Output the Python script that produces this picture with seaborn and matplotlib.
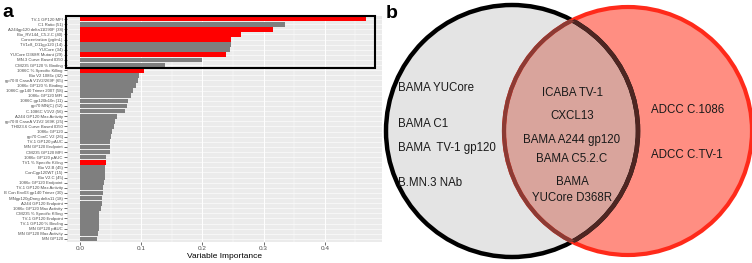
import numpy as np
import pandas as pd
import seaborn as sns
import matplotlib.pyplot as plt
from matplotlib.patches import Circle, Rectangle

# ------------------ DATA ------------------
variables = [
    'TV-1 GP120 MFI', 'C1 Ratio (51)', 'A244gp120 delta11D90F (38)', 'Bio_RV144_C5.2.C (40)',
    'Concentration (pg/mL)', 'TV1c8_D11gp120 (14)', 'YUCore (34)', 'YUCore D368R Mutant (29)',
    'MN.3 Curve Based ID50', 'CM235 GP120 % Binding', '1086C % Specific Killing', 'Bio V2 1086c (42)',
    'gp70 B CaseA V1V2/269F (65)', '1086c GP120 % Binding', '1086C gp140 Trimer 2007 (58)',
    '1086c GP120 MFI', '1086C gp120b10n (11)', 'gp70 MN(C) (52)', 'C.1086C V1V2 (56)',
    'A244 GP120 Max Activity', 'gp70 B CaseA V1V2 169K (25)', 'TH023.6 Curve Based ID50',
    '1086c GP120', 'gp70 ConC V2 (26)', 'TV-1 GP120 pAUC', 'MN GP120 Endpoint', 'CM235 GP120 MFI',
    '1086c GP120 pAUC', 'TV1 % Specific Killing', 'Bio V2.B (45)', 'ConCgp120WT (15)', 'Bio V2.C (45)',
    '1086c GP120 Endpoint', 'TV-1 GP120 Max Activity', 'B Con Env03 gp140 Trimer (30)',
    'MNgp120gDneg delta11 (18)', 'A244 GP120 Endpoint', '1086c GP120 Max Activity',
    'CM235 % Specific Killing', 'TV-1 GP120 Endpoint', 'TV-1 GP120 % Binding', 'MN GP120 pAUC',
    'MN GP120 Max Activity', 'MN GP120',
]
importance = [
    0.468, 0.335, 0.316, 0.263, 0.247, 0.246, 0.245, 0.239, 0.200, 0.138,
    0.104, 0.097, 0.095, 0.092, 0.087, 0.083, 0.079, 0.077, 0.073, 0.060,
    0.057, 0.055, 0.052, 0.050, 0.049, 0.049, 0.048, 0.043, 0.042, 0.041,
    0.040, 0.040, 0.039, 0.038, 0.037, 0.036, 0.035, 0.034, 0.031, 0.031,
    0.030, 0.030, 0.029, 0.028,
]
highlighted = [
    'TV-1 GP120 MFI', 'A244gp120 delta11D90F (38)', 'Bio_RV144_C5.2.C (40)',
    'Concentration (pg/mL)', 'YUCore D368R Mutant (29)', '1086C % Specific Killing',
    'TV1 % Specific Killing',
]
n_boxed = 10

left_only = ['BAMA YUCore', 'BAMA C1', 'BAMA  TV-1 gp120', 'B.MN.3 NAb']
shared = ['ICABA TV-1', 'CXCL13', 'BAMA A244 gp120', 'BAMA C5.2.C', 'BAMA', 'YUCore D368R']
right_only = ['ADCC C.1086', 'ADCC C.TV-1']

df = pd.DataFrame({'Variable': variables, 'Importance': importance})
df['Group'] = np.where(df['Variable'].isin(highlighted), 'shared', 'other')

plt.rcParams['font.family'] = ['Liberation Sans', 'DejaVu Sans']

fig = plt.figure(figsize=(7.52, 2.63), dpi=100)

# ------------------ PANEL A ------------------
ax = fig.add_axes([67 / 752, 1 - 242 / 263, (382 - 67) / 752, (242 - 16) / 263])
sns.barplot(data=df, x='Importance', y='Variable', hue='Group',
            palette={'shared': '#FF0000', 'other': '#7F7F7F'},
            dodge=False, width=0.93, saturation=1, legend=False, ax=ax,
            linewidth=0, edgecolor='none')

ax.set_facecolor('#EBEBEB')
for s in ax.spines.values():
    s.set_visible(False)
ax.set_axisbelow(True)
ax.set_xlim(-0.0215, 0.4935)
ax.set_ylim(len(variables) - 0.4, -0.6)
ax.set_xticks([0, 0.1, 0.2, 0.3, 0.4])
ax.set_xticklabels(['0.0', '0.1', '0.2', '0.3', '0.4'])
ax.set_xticks(np.arange(0.05, 0.5, 0.1), minor=True)
ax.grid(which='major', axis='x', color='white', lw=0.7)
ax.grid(which='major', axis='y', color='white', lw=0.4)
ax.grid(which='minor', axis='x', color='white', lw=0.3)
ax.tick_params(axis='y', labelsize=3.1, length=2, width=0.5, color='#333333',
               labelcolor='#4D4D4D', pad=1)
ax.tick_params(axis='x', which='major', labelsize=4.6, length=2, width=0.5,
               color='#333333', labelcolor='#4D4D4D', pad=1)
ax.tick_params(axis='x', which='minor', length=0)
ax.set_ylabel('')
ax.set_xlabel('Variable Importance', fontsize=6.0, labelpad=1.5)

box = Rectangle((-0.0235, -0.6), 0.506, n_boxed + 0.1, fill=False,
                ec='black', lw=1.5, clip_on=False, zorder=5)
ax.add_patch(box)

fig.text(2 / 752, 1 - 17 / 263, 'a', fontsize=14, fontweight='bold', va='baseline')

# ------------------ PANEL B (VENN) ------------------
ax2 = fig.add_axes([380 / 752, 0, 372 / 752, 1])
ax2.set_xlim(380, 752)
ax2.set_ylim(263, 0)
ax2.axis('off')

lc, lr = (512, 131), 126
rc, rr = (628, 131), 124

ax2.add_patch(Circle(lc, lr, fc='#E4E4E4', ec='none', zorder=1))
ax2.add_patch(Circle(rc, rr, fc='#FF8E82', ec='none', zorder=1))
clip_left = Circle(lc, lr, transform=ax2.transData)
inter = Circle(rc, rr, fc='#D9A49C', ec='none', zorder=2)
ax2.add_patch(inter)
inter.set_clip_path(clip_left)

ax2.add_patch(Circle(lc, lr, fill=False, ec='black', lw=3.2, zorder=3))
ax2.add_patch(Circle(rc, rr, fill=False, ec='#FF2A1A', lw=3.0, zorder=3))
clip_right = Circle(rc, rr, transform=ax2.transData)
arc_black = Circle(lc, lr, fill=False, ec='#4E2622', lw=3.2, zorder=4)
ax2.add_patch(arc_black)
arc_black.set_clip_path(clip_right)
clip_left2 = Circle(lc, lr, transform=ax2.transData)
arc_red = Circle(rc, rr, fill=False, ec='#8C3B34', lw=3.0, zorder=4)
ax2.add_patch(arc_red)
arc_red.set_clip_path(clip_left2)

venn_fs = 8.3
for label, y in zip(left_only, [88, 124, 148, 183]):
    ax2.text(398, y, label, fontsize=venn_fs, ha='left', va='center', color='#1A1A1A', zorder=6)
for label, y in zip(shared, [93, 116, 140, 159, 182, 198]):
    ax2.text(572, y, label, fontsize=venn_fs, ha='center', va='center', color='#1A1A1A', zorder=6)
for label, y in zip(right_only, [110, 155]):
    ax2.text(651, y, label, fontsize=venn_fs, ha='left', va='center', color='#1A1A1A', zorder=6)

fig.text(386 / 752, 1 - 18 / 263, 'b', fontsize=14, fontweight='bold', va='baseline')

fig.savefig('out.png', dpi=100)
